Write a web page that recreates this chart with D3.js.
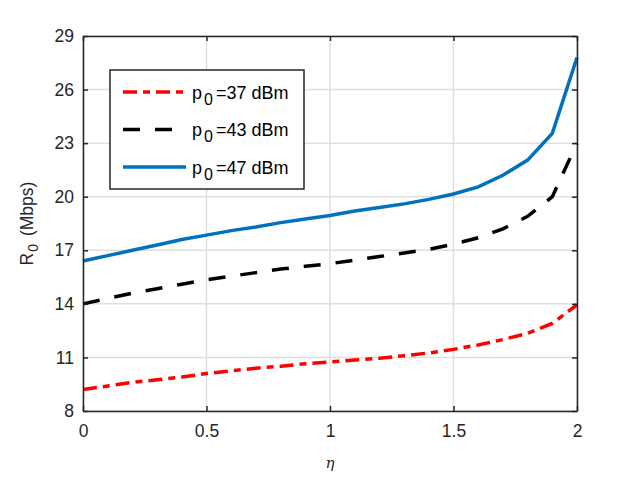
<!DOCTYPE html>
<html>
<head>
<meta charset="utf-8">
<script src="https://cdn.jsdelivr.net/npm/d3@7"></script>
<style>
  body { margin: 0; background: #fff; }
  svg { font-family: "Liberation Sans", Arial, Helvetica, sans-serif; }
</style>
</head>
<body>
<div id="chart"></div>
<script>
// eta values on the x axis
const eta = [0, 0.1, 0.2, 0.3, 0.4, 0.5, 0.6, 0.7, 0.8, 0.9, 1.0,
             1.1, 1.2, 1.3, 1.4, 1.5, 1.6, 1.7, 1.8, 1.9, 2.0];

// R0 (Mbps) for each transmit power
const r37 = [9.2, 9.4, 9.6, 9.75, 9.9, 10.1, 10.25, 10.4, 10.5, 10.65, 10.75,
             10.85, 10.95, 11.1, 11.25, 11.45, 11.7, 12.0, 12.35, 12.9, 13.95];
const r43 = [14.0, 14.3, 14.6, 14.85, 15.1, 15.35, 15.55, 15.75, 15.95, 16.1, 16.25,
             16.45, 16.65, 16.85, 17.05, 17.35, 17.7, 18.2, 18.9, 20.0, 23.0];
const r47 = [16.4, 16.7, 17.0, 17.3, 17.6, 17.85, 18.1, 18.3, 18.55, 18.75, 18.95,
             19.2, 19.4, 19.6, 19.85, 20.15, 20.55, 21.2, 22.05, 23.55, 27.8];

const xTicks = [0, 0.5, 1, 1.5, 2];
const yTicks = [8, 11, 14, 17, 20, 23, 26, 29];
const seriesNames = ['37', '43', '47'];

// set the dimensions and margins of the graph
let margin = {top: 36, right: 61, bottom: 79, left: 83};
let width = 638 - margin.left - margin.right;
let height = 490 - margin.top - margin.bottom;

let x = d3.scaleLinear().domain([0, 2]).range([0, width]);
let y = d3.scaleLinear().domain([8, 29]).range([height, 0]);

let svg = d3.select('#chart')
            .append('svg')
            .attr('width', 638)
            .attr('height', 490)
            .append('g')
            .attr('transform', 'translate(' + margin.left + ',' + margin.top + ')');

// grid
svg.append('g')
   .selectAll('line')
   .data(xTicks)
   .join('line')
   .attr('x1', d => x(d)).attr('x2', d => x(d))
   .attr('y1', 0).attr('y2', height)
   .attr('stroke', '#dfdfdf').attr('stroke-width', 1.5);
svg.append('g')
   .selectAll('line')
   .data(yTicks)
   .join('line')
   .attr('y1', d => y(d)).attr('y2', d => y(d))
   .attr('x1', 0).attr('x2', width)
   .attr('stroke', '#dfdfdf').attr('stroke-width', 1.5);

// lines
let line = d3.line().x((d, i) => x(eta[i])).y(d => y(d));
let styles = [
  {data: r37, color: '#ff0000', dash: '14,6,7,6'},
  {data: r43, color: '#000000', dash: '17,15'},
  {data: r47, color: '#0072bd', dash: null}
];

styles.forEach(s => {
  svg.append('path')
     .datum(s.data)
     .attr('fill', 'none')
     .attr('stroke', s.color)
     .attr('stroke-width', 3.5)
     .attr('stroke-dasharray', s.dash)
     .attr('d', line);
});

// axes (box with ticks on all sides, pointing in)
let axisColor = '#262626';
svg.append('g')
   .attr('transform', 'translate(0,' + height + ')')
   .call(d3.axisBottom(x).tickValues(xTicks).tickSizeInner(-5).tickSizeOuter(0).tickPadding(14).tickFormat(d3.format('')));
svg.append('g')
   .call(d3.axisTop(x).tickValues(xTicks).tickSizeInner(-5).tickSizeOuter(0).tickFormat(''));
svg.append('g')
   .call(d3.axisLeft(y).tickValues(yTicks).tickSizeInner(-5).tickSizeOuter(0).tickPadding(9));
svg.append('g')
   .attr('transform', 'translate(' + width + ',0)')
   .call(d3.axisRight(y).tickValues(yTicks).tickSizeInner(-5).tickSizeOuter(0).tickFormat(''));

svg.selectAll('.domain').attr('stroke', axisColor).attr('stroke-width', 1.5);
svg.selectAll('.tick line').attr('stroke', axisColor).attr('stroke-width', 1.5);
svg.selectAll('.tick text').attr('fill', axisColor).style('font-size', '17.5px')
   .style('font-family', '"Liberation Sans", Arial, sans-serif');

// axis labels
let yl = svg.append('text')
   .attr('transform', 'translate(-50,' + (height / 2) + ') rotate(-90)')
   .attr('text-anchor', 'middle')
   .attr('fill', axisColor)
   .style('font-size', '17.5px');
yl.append('tspan').text('R');
yl.append('tspan').attr('dy', 5).attr('dx', 1).style('font-size', '14px').text('0');
yl.append('tspan').attr('dy', -5).attr('dx', 3).text(' (Mbps)');

svg.append('text')
   .attr('x', width / 2)
   .attr('y', height + 57)
   .attr('text-anchor', 'middle')
   .attr('fill', axisColor)
   .style('font-size', '15px')
   .style('font-style', 'italic')
   .style('font-family', '"DejaVu Serif", serif')
   .text('η');

// legend
let legend = svg.append('g').attr('transform', 'translate(' + (110 - margin.left) + ',' + (70 - margin.top) + ')');
legend.append('rect')
      .attr('width', 194).attr('height', 119)
      .attr('fill', '#fff')
      .attr('stroke', axisColor).attr('stroke-width', 1.5);

styles.forEach((s, i) => {
  let row = legend.append('g').attr('transform', 'translate(0,' + (22 + i * 37.5) + ')');
  row.append('line')
     .attr('x1', 13).attr('x2', 76)
     .attr('stroke', s.color).attr('stroke-width', 3.5)
     .attr('stroke-dasharray', s.dash);
  let t = row.append('text')
     .attr('x', 82).attr('y', 6.5)
     .attr('fill', '#000')
     .style('font-size', '18px');
  t.append('tspan').text('p');
  t.append('tspan').attr('dy', 6).attr('dx', 2).style('font-size', '16px').text('0');
  t.append('tspan').attr('dy', -6).attr('dx', 3).text('=' + seriesNames[i] + ' dBm');
});
</script>
</body>
</html>
